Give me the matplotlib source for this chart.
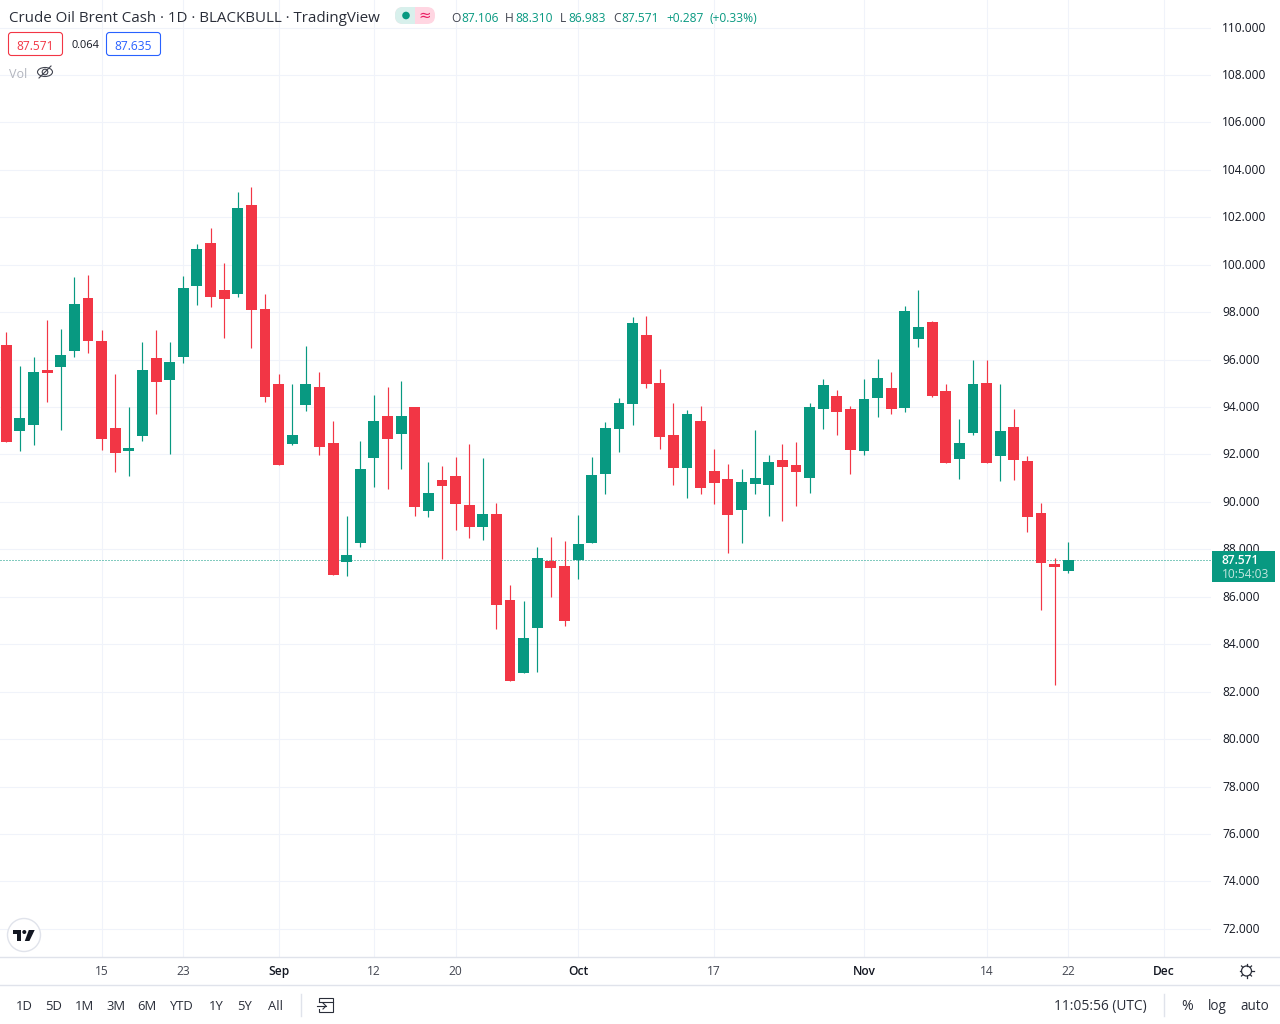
import matplotlib
matplotlib.use('Agg')
import matplotlib.pyplot as plt
from matplotlib.patches import Circle, Ellipse, FancyBboxPatch, Polygon, Rectangle
from matplotlib.transforms import ScaledTranslation

plt.rcParams['font.family'] = ['Open Sans', 'DejaVu Sans']

# daily candles
opens = [96.63, 93.00, 93.25, 95.57, 95.70, 96.37, 98.61, 96.79, 93.13, 92.16,
         92.79, 96.08, 95.15, 96.12, 99.11, 100.93, 98.94, 98.78, 102.53, 98.14,
         94.98, 92.45, 94.10, 94.85, 92.49, 87.48, 88.28, 91.86, 93.63, 92.87,
         94.01, 89.63, 90.93, 91.10, 89.88, 88.95, 89.50, 85.88, 82.80, 84.69,
         87.52, 87.31, 87.56, 88.28, 91.19, 93.08, 94.14, 97.05, 95.02, 92.83,
         91.44, 93.42, 91.31, 90.98, 89.67, 90.77, 90.72, 91.78, 91.57, 91.02,
         93.93, 94.48, 93.93, 92.16, 94.39, 94.81, 93.97, 96.88, 97.59, 94.69,
         91.82, 92.92, 95.02, 91.95, 93.17, 91.73, 89.54, 87.39, 87.106]
highs = [97.17, 95.74, 96.12, 97.68, 97.30, 99.49, 99.58, 97.26, 95.40, 94.01,
         96.75, 97.26, 96.75, 99.53, 100.88, 101.56, 100.08, 103.08, 103.29, 98.78,
         95.40, 94.98, 96.58, 95.49, 93.42, 89.42, 92.58, 94.52, 94.86, 95.11,
         94.01, 91.69, 91.52, 91.90, 92.45, 91.86, 89.96, 86.51, 85.83, 88.11,
         88.53, 88.36, 89.46, 91.90, 93.38, 94.39, 97.81, 97.85, 95.61, 94.18,
         93.89, 94.05, 92.24, 91.61, 91.40, 93.04, 91.99, 92.45, 92.54, 94.18,
         95.19, 94.73, 94.05, 95.19, 96.03, 95.49, 98.27, 98.94, 97.64, 94.98,
         93.51, 95.99, 95.99, 94.98, 93.93, 91.95, 89.96, 87.65, 88.310]
lows = [92.54, 92.16, 92.41, 94.22, 93.04, 96.12, 96.29, 92.20, 91.27, 91.10,
        92.58, 93.72, 92.03, 95.87, 98.31, 98.23, 96.92, 98.65, 96.50, 94.22,
        91.57, 92.41, 93.84, 91.99, 86.93, 86.89, 88.11, 90.64, 90.55, 91.40,
        89.42, 89.37, 87.59, 88.83, 88.49, 88.40, 84.65, 82.46, 82.80, 82.84,
        86.00, 84.78, 86.76, 88.28, 90.34, 92.11, 93.25, 94.81, 92.24, 90.72,
        90.18, 90.34, 89.92, 87.86, 88.28, 90.34, 89.42, 89.21, 89.84, 90.39,
        93.08, 92.83, 91.19, 91.99, 93.59, 93.72, 93.80, 96.54, 94.43, 91.65,
        90.98, 92.83, 91.65, 90.89, 90.93, 88.74, 85.45, 82.29, 86.983]
closes = [92.54, 93.55, 95.49, 95.44, 96.20, 98.35, 96.79, 92.66, 92.07, 92.28,
          95.57, 95.07, 95.91, 99.03, 100.67, 98.65, 98.56, 102.40, 98.10, 94.43,
          91.57, 92.83, 94.98, 92.33, 86.93, 87.77, 91.40, 93.42, 92.66, 93.63,
          89.80, 90.39, 90.68, 89.92, 88.95, 89.50, 85.66, 82.46, 84.27, 87.65,
          87.22, 84.99, 88.24, 91.15, 93.13, 94.18, 97.55, 94.98, 92.75, 91.44,
          93.72, 90.60, 90.81, 89.46, 90.85, 91.02, 91.69, 91.48, 91.27, 94.01,
          94.94, 93.80, 92.20, 94.35, 95.23, 93.93, 98.06, 97.38, 94.48, 91.65,
          92.49, 94.98, 91.65, 93.00, 91.78, 89.37, 87.43, 87.27, 87.571]

price_ticks = [72, 74, 76, 78, 80, 82, 84, 86, 88, 90, 92, 94, 96, 98, 100, 102, 104, 106, 108, 110]
date_ticks = [7, 13, 20, 27, 33, 42, 52, 63, 72, 78, 85]
date_labels = ['15', '23', 'Sep', '12', '20', 'Oct', '17', 'Nov', '14', '22', 'Dec']
ranges = ['1D', '5D', '1M', '3M', '6M', 'YTD', '1Y', '5Y', 'All']
range_pos = [24, 54, 85, 116, 147, 182, 216, 245, 275]

UP = '#089981'
DOWN = '#f23645'
TEXT = '#131722'
GRID = '#f0f3fa'
BORDER = '#e0e3eb'


def px(n):
    # font sizes below are in screen pixels
    return n * 0.72


fig = plt.figure(figsize=(12.8, 10.24), dpi=100, facecolor='white')

# main pane, 1211 x 957 px
ax = fig.add_axes([0, 1 - 957 / 1024, 1211 / 1280, 957 / 1024])
for s in ax.spines.values():
    s.set_visible(False)
ax.set_xlim(-0.4627, 88.484)
ax.set_ylim(70.812, 111.162)
ax.set_axisbelow(True)
ax.grid(True, color=GRID, linewidth=0.8)

positions = range(len(closes))
colors = [UP if c >= o else DOWN for o, c in zip(opens, closes)]
bottoms = [min(o, c) for o, c in zip(opens, closes)]
heights = [abs(c - o) for o, c in zip(opens, closes)]
ax.axhline(closes[-1], color=UP, linewidth=0.72, linestyle=(0, (1, 2)), zorder=1.5)
ax.vlines(positions, lows, highs, colors=colors, linewidth=0.85, zorder=2)
ax.bar(positions, heights, bottom=bottoms, width=0.8, color=colors, linewidth=0, zorder=3)

ax.yaxis.tick_right()
ax.set_yticks(price_ticks)
ax.set_yticklabels(['%.3f' % p for p in price_ticks], fontsize=px(12), color=TEXT)
ax.set_xticks(date_ticks)
ax.set_xticklabels(date_labels, fontsize=px(12), color='#434651')
ax.tick_params(axis='both', length=0)
ax.tick_params(axis='y', pad=8)
ax.tick_params(axis='x', pad=5.5)
# price labels sit about a pixel above their grid line
up_1px = ScaledTranslation(0, 1 / 100, fig.dpi_scale_trans)
for lab in ax.get_yticklabels():
    lab.set_transform(lab.get_transform() + up_1px)
for lab, name in zip(ax.get_xticklabels(), date_labels):
    if name in ('Sep', 'Oct', 'Nov', 'Dec'):
        lab.set_color(TEXT)
        lab.set_fontweight('semibold')

# everything around the chart is drawn on an overlay in pixel coordinates
ui = fig.add_axes([0, 0, 1, 1], zorder=5)
ui.set_xlim(0, 1280)
ui.set_ylim(1024, 0)
ui.axis('off')
ui.patch.set_alpha(0)


def label(x, y, s, size=12, color=TEXT, ha='left', **kw):
    ui.text(x, y, s, fontsize=px(size), color=color, ha=ha, va='center', **kw)


# header
label(9, 18, 'Crude Oil Brent Cash · 1D · BLACKBULL · TradingView', size=15.1, color='#2a2e39')
ui.add_patch(FancyBboxPatch((395, 7), 40, 17, boxstyle='round,pad=0,rounding_size=8', fc='#ffd6e2', ec='none'))
ui.add_patch(FancyBboxPatch((395, 7), 20, 17, boxstyle='round,pad=0,rounding_size=8', fc='#d8f0ec', ec='none'))
ui.add_patch(Rectangle((407, 7), 8, 17, fc='#d8f0ec', ec='none'))
ui.add_patch(Circle((406, 15.5), 3.8, fc=UP, ec='none'))
label(424.5, 15.5, '≈', size=15, color='#e91e63', ha='center', family='DejaVu Sans')

for x, s in zip([451, 505, 560, 613], ['O', 'H', 'L', 'C']):
    label(x, 19, s, color='#434651')
for x, s in zip([461, 515, 568, 621], ['87.106', '88.310', '86.983', '87.571']):
    label(x, 19, s, color=UP)
label(666, 19, '+0.287', color=UP)
label(709, 19, '(+0.33%)', color=UP)

ui.add_patch(FancyBboxPatch((8.5, 32.5), 54, 23, boxstyle='round,pad=0,rounding_size=3', fc='white', ec=DOWN, lw=0.8))
label(35.5, 46, '87.571', color=DOWN, ha='center')
label(85, 46, '0.064', size=11, color=TEXT, ha='center')
ui.add_patch(FancyBboxPatch((106.5, 32.5), 54, 23, boxstyle='round,pad=0,rounding_size=3', fc='white', ec='#2962ff', lw=0.8))
label(133.5, 46, '87.635', color='#2962ff', ha='center')

# Vol row with the crossed out eye
label(9, 74, 'Vol', size=12.5, color='#b2b5be')
ui.add_patch(Ellipse((45, 72), 15, 9, fc='none', ec='#434651', lw=0.8))
ui.add_patch(Circle((45, 72), 2.8, fc='none', ec='#434651', lw=0.8))
ui.plot([39, 51], [78, 66], color='#434651', lw=0.8)

# last price tag
ui.add_patch(Rectangle((1212, 551), 63, 31, fc=UP, ec='none'))
label(1222, 560, '87.571', color='white', fontweight='semibold')
label(1222, 574, '10:54:03', color='#c3e6df')

# logo
ui.add_patch(Circle((24, 935), 16.5, fc='white', ec=BORDER, lw=1))
ui.add_patch(Polygon([(12.7, 930), (21, 930), (21, 941), (16.8, 941), (16.8, 933.8), (12.7, 933.8)], fc=TEXT, ec='none'))
ui.add_patch(Circle((24.3, 932), 2, fc=TEXT, ec='none'))
ui.add_patch(Polygon([(28.8, 930), (34.7, 930), (29.4, 941), (24.8, 941)], fc=TEXT, ec='none'))

# separators
ui.plot([0, 1280], [957, 957], color=BORDER, lw=1)
ui.plot([0, 1280], [985, 985], color=BORDER, lw=1)
ui.plot([300.5, 300.5], [994, 1016], color=BORDER, lw=1)
ui.plot([1163.5, 1163.5], [994, 1016], color=BORDER, lw=1)

# gear on the time scale
ui.add_patch(Circle((1246.5, 971), 5, fc='white', ec='#2a2e39', lw=0.9))
for dx, dy in [(0, 7), (0, -7), (7, 0), (-7, 0), (5, 5), (-5, 5), (5, -5), (-5, -5)]:
    ui.plot([1246.5 + dx * 0.75, 1246.5 + dx], [971 + dy * 0.75, 971 + dy], color='#2a2e39', lw=0.9)

# bottom toolbar
for x, s in zip(range_pos, ranges):
    label(x, 1006.5, s, size=13, color='#2a2e39', ha='center')
ui.add_patch(Rectangle((319, 998), 14, 14, fc='none', ec='#2a2e39', lw=0.8))
ui.add_patch(Rectangle((316, 1003), 9, 5.5, fc='white', ec='none'))
ui.plot([319, 333], [1002, 1002], color='#2a2e39', lw=0.8)
ui.plot([317, 326], [1006, 1006], color='#2a2e39', lw=0.8)
ui.plot([323, 326, 323], [1003, 1006, 1009], color='#2a2e39', lw=0.8)
label(1100, 1006.5, '11:05:56 (UTC)', size=13.8, color='#2a2e39', ha='center')
label(1187, 1006.5, '%', size=14, color='#2a2e39', ha='center')
label(1217, 1006.5, 'log', size=13.5, color='#2a2e39', ha='center')
label(1255, 1006.5, 'auto', size=13.5, color='#2a2e39', ha='center')

fig.savefig('out.png', dpi=100)
